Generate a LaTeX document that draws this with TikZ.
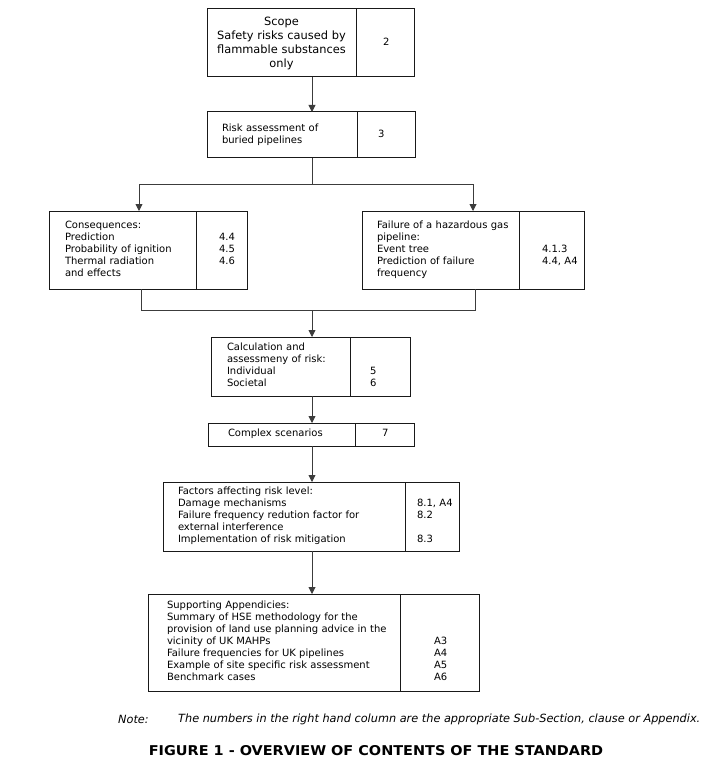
\documentclass[tikz,border=0pt]{standalone}
\usepackage{fontspec}
\setmainfont{DejaVu Sans}
\newfontfamily\captionfamily{DejaVu Sans}[FakeStretch=1.07]
\usetikzlibrary{arrows.meta, positioning}
\definecolor{boxline}{RGB}{25,25,25}
\definecolor{linkline}{RGB}{60,60,60}
\newcommand{\cellfont}{\fontsize{10}{12}\selectfont}
\newcommand{\scopefont}{\fontsize{11.4}{14}\selectfont}
\tikzset{cell/.style={rectangle, draw=boxline, line width=1pt, outer sep=0pt, inner sep=0pt, align=left, font=\cellfont,
    execute at begin node={\leftskip=#1\rightskip=-30pt plus 1fil\strut}, execute at end node={\strut}}}
\tikzstyle{textcell} = [cell=#1, anchor=north west]
\tikzstyle{numcell} = [cell=#1]
\tikzstyle{headcell} = [rectangle, draw=boxline, line width=1pt, outer sep=0pt, inner sep=0pt, align=center, font=\scopefont, anchor=north west]
\tikzstyle{arrow} = [-{Triangle[length=7pt, width=7pt]}, line width=0.9pt, draw=linkline]
\tikzstyle{link} = [line width=0.9pt, draw=linkline]

\begin{document}
\begin{tikzpicture}[x=1pt, y=-1pt]
  \useasboundingbox (0,0) rectangle (708,762);

  \coordinate (spine) at (312,0);
  \coordinate (splitL) at (139,184);
  \coordinate (splitR) at (473,184);
  \coordinate (mergeL) at (141,310);
  \coordinate (mergeR) at (475,310);

  \node[headcell, text width=149pt, minimum height=68pt] (scope) at (207,9)
    {Scope\\Safety risks caused by\\flammable substances\\only};
  \node[numcell=27pt, text width=58pt, minimum height=68pt, right=0pt of scope] (scopeno) {2};

  \node[textcell=15pt, text width=150pt, minimum height=46pt] (risk) at (207,112) {Risk assessment of\\buried pipelines};
  \node[numcell=21pt, text width=58pt, minimum height=46pt, right=0pt of risk] (riskno) {3};

  \node[textcell=16pt, text width=147pt, minimum height=78pt] (cons) at (49,211)
    {Consequences:\\Prediction\\Probability of ignition\\Thermal radiation\\and effects};
  \node[numcell=23pt, text width=51pt, minimum height=78pt, right=0pt of cons] (consno) {\\4.4\\4.5\\4.6\\};

  \node[textcell=15pt, text width=157pt, minimum height=78pt] (fail) at (362,211)
    {Failure of a hazardous gas\\pipeline:\\Event tree\\Prediction of failure\\frequency};
  \node[numcell=23pt, text width=65pt, minimum height=78pt, right=0pt of fail] (failno) {\\\mbox{}\\4.1.3\\4.4, A4\\};

  \node[textcell=16pt, text width=139pt, minimum height=59pt] (calc) at (211,337)
    {Calculation and\\assessmeny of risk:\\Individual\\Societal};
  \node[numcell=20pt, text width=60pt, minimum height=59pt, right=0pt of calc] (calcno) {\\\mbox{}\\5\\6};

  \node[textcell=20pt, text width=147pt, minimum height=23pt] (cplx) at (208,423) {Complex scenarios};
  \node[numcell=27pt, text width=59pt, minimum height=23pt, right=0pt of cplx] (cplxno) {7};

  \node[textcell=15pt, text width=242pt, minimum height=69pt] (fact) at (163,482)
    {Factors affecting risk level:\\Damage mechanisms\\Failure frequency redution factor for\\external interference\\Implementation of risk mitigation};
  \node[numcell=12pt, text width=54pt, minimum height=69pt, right=0pt of fact] (factno) {\\8.1, A4\\8.2\\\mbox{}\\8.3};

  \node[textcell=19pt, text width=252pt, minimum height=97pt] (supp) at (148,594)
    {Supporting Appendicies:\\Summary of HSE methodology for the\\provision of land use planning advice in the\\vicinity of UK MAHPs\\Failure frequencies for UK pipelines\\Example of site specific risk assessment\\Benchmark cases};
  \node[numcell=34pt, text width=79pt, minimum height=97pt, right=0pt of supp] (suppno) {\\\mbox{}\\\mbox{}\\A3\\A4\\A5\\A6};

  \node[anchor=west, inner sep=0pt, font=\fontsize{11.3}{13}\selectfont\itshape] (notelbl) at (118,719) {Note:};
  \node[anchor=west, inner sep=0pt, font=\fontsize{11.3}{13}\selectfont\itshape] (note) at (178,719)
    {The numbers in the right hand column are the appropriate Sub-Section, clause or Appendix.};
  \node[inner sep=0pt, font=\captionfamily\fontsize{13.5}{15}\selectfont\bfseries] (caption) at (376,751)
    {FIGURE 1 - OVERVIEW OF CONTENTS OF THE STANDARD};

  \draw[arrow] (scope.south -| spine) -- (risk.north -| spine);
  \draw[link] (risk.south -| spine) -- (spine |- splitL);
  \draw[arrow] (spine |- splitL) -| (cons.north -| splitL);
  \draw[arrow] (spine |- splitR) -| (fail.north -| splitR);
  \draw[link] (cons.south -| mergeL) |- (mergeR) -- (fail.south -| mergeR);
  \draw[arrow] (spine |- mergeL) -- (calc.north -| spine);
  \draw[arrow] (calc.south -| spine) -- (cplx.north -| spine);
  \draw[arrow] (cplx.south -| spine) -- (fact.north -| spine);
  \draw[arrow] (fact.south -| spine) -- (supp.north -| spine);
\end{tikzpicture}
\end{document}
